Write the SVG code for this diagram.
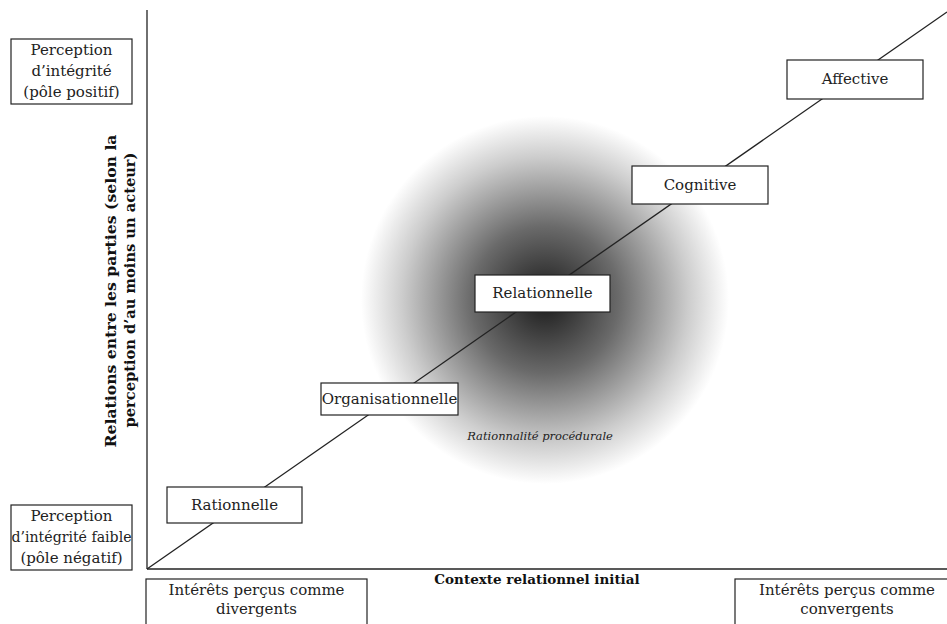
<svg xmlns="http://www.w3.org/2000/svg" width="947" height="624" viewBox="0 0 947 624">
<defs>
<radialGradient id="glow" gradientUnits="userSpaceOnUse" cx="545" cy="300" r="184">
<stop offset="0" stop-color="#1a1a1a"/>
<stop offset="0.4" stop-color="#6a6a6a"/>
<stop offset="0.78" stop-color="#cdcdcd"/>
<stop offset="1" stop-color="#fff"/>
</radialGradient>
</defs>
<style>
.box{fill:#fff;stroke:#222;stroke-width:1.2}
.t{font-family:'DejaVu Serif',serif;font-size:15px;fill:#222;text-anchor:middle}
.ax{stroke:#222;stroke-width:1.3;fill:none}
.b{font-family:'DejaVu Serif',serif;font-weight:bold;fill:#111;text-anchor:middle}
</style>
<rect width="947" height="624" fill="#fff"/>
<circle cx="545" cy="300" r="184" fill="url(#glow)"/>
<g id="connectors">
<line class="ax" x1="147" y1="10" x2="147" y2="569"/>
<line class="ax" x1="147" y1="569" x2="947" y2="569"/>
<line class="ax" x1="147" y1="569" x2="947" y2="12"/>
</g>
<g id="pos">
<rect class="box" x="11" y="39" width="121" height="65"/>
<text class="t" x="71.5" y="55">Perception</text>
<text class="t" x="71.5" y="76">d’intégrité</text>
<text class="t" x="71.5" y="97">(pôle positif)</text>
</g>
<g id="neg">
<rect class="box" x="11" y="505" width="121" height="65"/>
<text class="t" x="71.5" y="521">Perception</text>
<text class="t" x="71.5" y="542" textLength="120" lengthAdjust="spacingAndGlyphs">d’intégrité faible</text>
<text class="t" x="71.5" y="563">(pôle négatif)</text>
</g>
<g id="divergents">
<rect class="box" x="146" y="579" width="221" height="60"/>
<text class="t" x="256.5" y="595">Intérêts perçus comme</text>
<text class="t" x="256.5" y="614">divergents</text>
</g>
<g id="convergents">
<rect class="box" x="735" y="579" width="225" height="60"/>
<text class="t" x="847" y="595">Intérêts perçus comme</text>
<text class="t" x="847" y="614">convergents</text>
</g>
<g id="rationnelle">
<rect class="box" x="167" y="487" width="135" height="36"/>
<text class="t" x="234.5" y="510">Rationnelle</text>
</g>
<g id="organisationnelle">
<rect class="box" x="321" y="383" width="137" height="32"/>
<text class="t" x="389.5" y="404">Organisationnelle</text>
</g>
<g id="relationnelle">
<rect class="box" x="475" y="275" width="135" height="37"/>
<text class="t" x="542.5" y="298">Relationnelle</text>
</g>
<g id="cognitive">
<rect class="box" x="632" y="166" width="136" height="38"/>
<text class="t" x="700" y="190">Cognitive</text>
</g>
<g id="affective">
<rect class="box" x="787" y="60" width="136" height="39"/>
<text class="t" x="855" y="84">Affective</text>
</g>
<text x="540" y="440" style="font-family:'DejaVu Serif',serif;font-style:italic;font-size:11.5px;fill:#222;text-anchor:middle">Rationnalité procédurale</text>
<text class="b" x="537" y="584" style="font-size:13.5px">Contexte relationnel initial</text>
<g id="yaxis-label">
<text class="b" transform="translate(116,291) rotate(-90)" style="font-size:14.5px" textLength="313" lengthAdjust="spacingAndGlyphs">Relations entre les parties (selon la</text>
<text class="b" transform="translate(135,290) rotate(-90)" style="font-size:14.5px" textLength="275" lengthAdjust="spacingAndGlyphs">perception d’au moins un acteur)</text>
</g>
</svg>
